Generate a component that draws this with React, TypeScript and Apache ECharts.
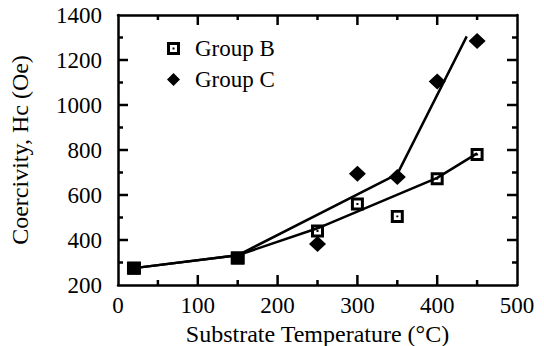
import React, { useEffect, useRef } from "react";
import * as echarts from "echarts";

const temps = [20, 150, 250, 300, 350, 400, 450];
const groupB = [275, 320, 440, 560, 505, 672, 780];
const groupC = [275, 320, 382, 695, 680, 1105, 1285];
const fitBTemps = [20, 150, 250, 400, 450];
const fitBValues = [275, 332, 452, 676, 785];
const fitCTemps = [20, 150, 350, 437];
const fitCValues = [275, 332, 693, 1305];
const xMin = 0, xMax = 500, xStep = 100;
const yMin = 200, yMax = 1400, yStep = 200;
const xMajorTicks = [100, 200, 300, 400];
const xMinorTicks = [50, 150, 250, 350, 450];
const yMajorTicks = [400, 600, 800, 1000, 1200];
const yMinorTicks = [300, 500, 700, 900, 1100, 1300];

const FONT = "Liberation Serif, DejaVu Serif, serif";
const openSquare =
  "path://M0 0H13V13H0Z M3 3V10H10V3Z M5.5 5.5H7.5V7.5H5.5Z";

const MAJOR = 10;
const MINOR = 5;
const TW = 2.5;

export default function App() {
  const ref = useRef<HTMLDivElement>(null);
  useEffect(() => {
    if (!ref.current) return;
    const chart = echarts.init(ref.current, null, { renderer: "svg" });
    const bothC = temps.map((t, i) => {
      const same = groupB[i] === groupC[i];
      return same
        ? { value: [t, groupC[i]], symbol: "rect", symbolSize: [14, 13] }
        : { value: [t, groupC[i]] };
    });
    const labelStyle = {
      color: "#000",
      fontFamily: FONT,
      fontSize: 23,
      formatter: (v: number) => String(v),
    };
    const nameStyle = { color: "#000", fontFamily: FONT, fontSize: 24 };

    const frameAxis = (min: number, max: number, step: number, position: string, extra: any) => ({
      type: "value",
      min,
      max,
      interval: step,
      position,
      axisLine: { show: true, onZero: false, lineStyle: { color: "#000", width: 2.5 } },
      axisTick: { show: false },
      axisLabel: { show: false },
      splitLine: { show: false },
      ...extra,
    });

    // tick data: [x, y, length, orientation(0 = x tick, 1 = y tick)]
    const tickData: number[][] = [
      ...xMajorTicks.map((v) => [v, yMin, MAJOR, 0]),
      ...xMinorTicks.map((v) => [v, yMin, MINOR, 0]),
      ...yMajorTicks.map((v) => [xMin, v, MAJOR, 1]),
      ...yMinorTicks.map((v) => [xMin, v, MINOR, 1]),
    ];

    const fill = { fill: "#000" };

    chart.setOption({
      animation: false,
      backgroundColor: "#fff",
      textStyle: { fontFamily: FONT, color: "#000" },
      grid: { left: 118, right: 27, top: 15, bottom: 61, outerBoundsMode: "none" },
      legend: {
        orient: "vertical",
        left: 162,
        top: 32,
        itemWidth: 13,
        itemHeight: 13,
        itemGap: 8,
        data: ["Group B", "Group C"],
        textStyle: {
          fontFamily: FONT,
          fontSize: 23,
          color: "#000",
          lineHeight: 23,
          padding: [0, 0, 0, 10],
        },
      },
      xAxis: [
        frameAxis(xMin, xMax, xStep, "bottom", {
          axisLabel: { ...labelStyle, margin: 9 },
          name: "Substrate Temperature (°C)",
          nameLocation: "middle",
          nameGap: 36,
          nameTextStyle: nameStyle,
        }),
        frameAxis(xMin, xMax, xStep, "top", {}),
      ],
      yAxis: [
        frameAxis(yMin, yMax, yStep, "left", {
          axisLabel: { ...labelStyle, margin: 16 },
          name: "Coercivity, Hc (Oe)",
          nameLocation: "middle",
          nameGap: 86,
          nameTextStyle: nameStyle,
        }),
        frameAxis(yMin, yMax, yStep, "right", {}),
      ],
      series: [
        {
          name: "ticks",
          type: "custom",
          xAxisIndex: 0,
          yAxisIndex: 0,
          silent: true,
          clip: false,
          data: tickData,
          renderItem: (_params: any, api: any) => {
            const x = api.value(0);
            const y = api.value(1);
            const len = api.value(2);
            const orient = api.value(3);
            if (orient === 0) {
              const b = api.coord([x, yMin]);
              const t = api.coord([x, yMax]);
              return {
                type: "group",
                children: [
                  { type: "rect", shape: { x: b[0] - TW / 2, y: b[1] - len, width: TW, height: len }, style: fill },
                  { type: "rect", shape: { x: t[0] - TW / 2, y: t[1], width: TW, height: len }, style: fill },
                ],
              };
            }
            const l = api.coord([xMin, y]);
            const r = api.coord([xMax, y]);
            return {
              type: "group",
              children: [
                { type: "rect", shape: { x: l[0], y: l[1] - TW / 2, width: len, height: TW }, style: fill },
                { type: "rect", shape: { x: r[0] - len, y: r[1] - TW / 2, width: len, height: TW }, style: fill },
              ],
            };
          },
          z: 5,
        },
        {
          name: "Fit B",
          type: "line",
          data: fitBTemps.map((t, i) => [t, fitBValues[i]]),
          showSymbol: false,
          lineStyle: { color: "#000", width: 2.5 },
          silent: true,
        },
        {
          name: "Fit C",
          type: "line",
          data: fitCTemps.map((t, i) => [t, fitCValues[i]]),
          showSymbol: false,
          lineStyle: { color: "#000", width: 2.5 },
          silent: true,
        },
        {
          name: "Group B",
          type: "scatter",
          data: temps.map((t, i) => [t, groupB[i]]),
          symbol: openSquare,
          symbolSize: 13,
          itemStyle: { color: "#000", opacity: 1 },
          z: 3,
        },
        {
          name: "Group C",
          type: "scatter",
          data: bothC,
          symbol: "diamond",
          symbolSize: [17, 16],
          itemStyle: { color: "#000", opacity: 1 },
          z: 4,
        },
      ],
    });
    return () => chart.dispose();
  }, []);
  return <div ref={ref} style={{ width: 544, height: 346, position: "absolute", left: 0, top: 0 }} />;
}
